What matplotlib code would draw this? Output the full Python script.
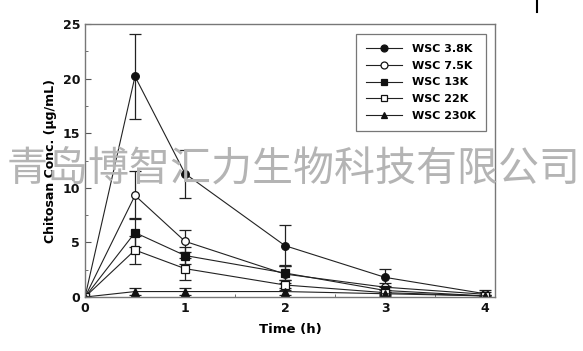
import matplotlib
matplotlib.use("Agg")
import matplotlib.pyplot as plt
from matplotlib.lines import Line2D

# ========== Data ==========
time_h = [0, 0.5, 1, 2, 3, 4]
labels = ["WSC 3.8K", "WSC 7.5K", "WSC 13K", "WSC 22K", "WSC 230K"]

wsc_38k = [0, 20.2, 11.3, 4.7, 1.8, 0.3]
wsc_38k_err = [0, 3.9, 2.2, 1.9, 0.8, 0.3]
wsc_75k = [0, 9.3, 5.1, 2.1, 0.9, 0.25]
wsc_75k_err = [0, 2.2, 1.0, 0.8, 0.4, 0.2]
wsc_13k = [0, 5.9, 3.8, 2.2, 0.6, 0.1]
wsc_13k_err = [0, 1.3, 0.8, 0.6, 0.3, 0.1]
wsc_22k = [0, 4.3, 2.6, 1.1, 0.4, 0.1]
wsc_22k_err = [0, 1.3, 1.0, 0.5, 0.2, 0.1]
wsc_230k = [0, 0.5, 0.5, 0.5, 0.3, 0.1]
wsc_230k_err = [0, 0.3, 0.3, 0.3, 0.2, 0.1]

series = [wsc_38k, wsc_75k, wsc_13k, wsc_22k, wsc_230k]
errors = [wsc_38k_err, wsc_75k_err, wsc_13k_err, wsc_22k_err, wsc_230k_err]
markers = ["o", "o", "s", "s", "^"]
filled = [True, False, True, False, True]

# ========== Figure ==========
fig = plt.figure(figsize=(5.83, 3.51), dpi=100)
ax = fig.add_axes([0.1458, 0.1538, 0.7033, 0.7778])

handles = []
for y, e, m, f, lab in zip(series, errors, markers, filled, labels):
    fc = "#111111" if f else "white"
    ax.errorbar(time_h, y, yerr=e, color="#222222", lw=0.8, elinewidth=0.9,
                capsize=4, capthick=0.9, marker=m, markersize=5.5,
                markerfacecolor=fc, markeredgecolor="#111111", markeredgewidth=0.9)
    handles.append(Line2D([], [], color="#222222", lw=0.8, marker=m, markersize=5,
                          markerfacecolor=fc, markeredgecolor="#111111",
                          markeredgewidth=0.9, label=lab))

ax.set_xlim(0, 4.1)
ax.set_ylim(0, 25)
ax.set_xticks([0, 1, 2, 3, 4])
ax.set_xticks([0.5, 1.5, 2.5, 3.5], minor=True)
ax.set_yticks([0, 5, 10, 15, 20, 25])
ax.set_yticks([2.5, 7.5, 12.5, 17.5, 22.5], minor=True)
ax.tick_params(which="both", direction="in", colors="#555555", labelcolor="#111111")
ax.tick_params(which="major", length=4, labelsize=9)
ax.tick_params(which="minor", length=2)
for t in ax.get_xticklabels() + ax.get_yticklabels():
    t.set_fontweight("bold")
for s in ax.spines.values():
    s.set_color("#777777")
    s.set_linewidth(1.0)

ax.set_xlabel("Time (h)", fontsize=9.5, fontweight="bold", labelpad=6)
ax.set_ylabel("Chitosan Conc. (\u03bcg/mL)", fontsize=9, fontweight="bold", labelpad=4)

leg = ax.legend(handles=handles, loc="upper right", bbox_to_anchor=(0.9915, 0.985),
                prop={"weight": "bold", "size": 8}, frameon=True, fancybox=False,
                handlelength=3.3, handletextpad=0.9, borderpad=0.9, labelspacing=0.62)
leg.get_frame().set_edgecolor("#555555")
leg.get_frame().set_linewidth(0.9)

# watermark
fig.text(0.503, 0.515, "青岛博智汇力生物科技有限公司", ha="center", va="center",
         fontsize=29.5, color="#b4b4b4",
         family=["Noto Sans CJK SC", "DejaVu Sans"], fontweight="light")

# small mark at top right
fig.add_artist(Line2D([536.5 / 583, 536.5 / 583], [1.0, 1 - 12 / 351],
                      color="black", lw=1.5))

fig.savefig("out.png", dpi=100)
